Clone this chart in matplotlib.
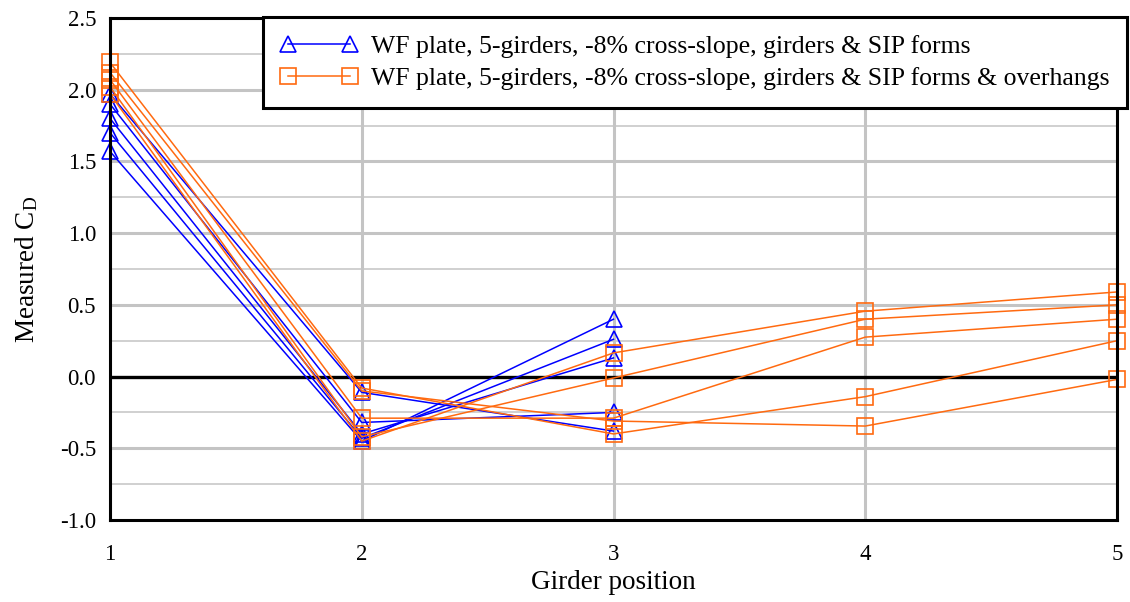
import matplotlib
matplotlib.use("Agg")
import matplotlib.pyplot as plt
import numpy as np

plt.rcParams["font.family"] = ["Liberation Serif", "DejaVu Serif"]
plt.rcParams["mathtext.fontset"] = "custom"
plt.rcParams["mathtext.rm"] = "Liberation Serif"
plt.rcParams["mathtext.it"] = "Liberation Serif:italic"

# ── Data ─────────────────────────────────────────────────────────────────────
girders_blue = [1, 2, 3]
girders_orange = [1, 2, 3, 4, 5]

# girders & SIP forms (one run per row)
cd_blue = [
    [1.97, -0.11, -0.38],
    [1.90, -0.32, -0.25],
    [1.80, -0.40, 0.13],
    [1.70, -0.43, 0.26],
    [1.57, -0.45, 0.40],
]

# girders & SIP forms & overhangs
cd_orange = [
    [2.19, -0.08, -0.40, -0.14, 0.25],
    [2.12, -0.10, -0.31, -0.345, -0.02],
    [2.07, -0.29, -0.29, 0.275, 0.40],
    [2.02, -0.42, -0.01, 0.40, 0.50],
    [1.97, -0.45, 0.165, 0.456, 0.59],
]

label_blue = "WF plate, 5-girders, -8% cross-slope, girders & SIP forms"
label_orange = "WF plate, 5-girders, -8% cross-slope, girders & SIP forms & overhangs"

blue = "#0000ff"
orange = "#ff6a10"

# ── Figure ───────────────────────────────────────────────────────────────────
fig = plt.figure(figsize=(11.30, 6.02), dpi=100)
ax = fig.add_axes([110 / 1130, 1 - 520 / 602, 1007 / 1130, 502 / 602])

# grid
for y in np.arange(-0.75, 2.5, 0.25):
    major = abs((y * 2) - round(y * 2)) < 1e-6
    ax.axhline(y, color="#c4c4c4" if major else "#d0d0d0",
               lw=2.2 if major else 1.4, zorder=0)
for x in girders_orange:
    ax.axvline(x, color="#c4c4c4", lw=2.2, zorder=0)
ax.axhline(0.0, color="black", lw=2.4, zorder=1)

for i, vals in enumerate(cd_blue):
    ax.plot(girders_blue, vals, color=blue, lw=1.1, marker="^", markersize=12,
            markerfacecolor="none", markeredgecolor=blue, markeredgewidth=1.2,
            label=label_blue if i == 0 else None, zorder=3, clip_on=False)

for i, vals in enumerate(cd_orange):
    ax.plot(girders_orange, vals, color=orange, lw=1.1, marker="s", markersize=12,
            markerfacecolor="none", markeredgecolor=orange, markeredgewidth=1.2,
            label=label_orange if i == 0 else None, zorder=3, clip_on=False)

ax.set_xlim(1, 5)
ax.set_ylim(-1.0, 2.5)
ax.set_xticks(girders_orange)
ax.set_yticks(np.arange(-1.0, 2.51, 0.5))
ax.set_yticklabels([f"{v:.1f}" for v in np.arange(-1.0, 2.51, 0.5)])
ax.tick_params(length=0, labelsize=16.5, pad=10)
ax.tick_params(axis="x", pad=17)
for s in ax.spines.values():
    s.set_linewidth(2.2)
    s.set_color("black")
    s.set_zorder(5)

ax.set_xlabel("Girder position", fontsize=19.5, labelpad=4)
ax.set_ylabel(r"Measured C$_\mathrm{D}$", fontsize=19.5, labelpad=14)

leg = ax.legend(loc="upper right", bbox_to_anchor=(1127 / 1130, 1 - 17 / 602),
                bbox_transform=fig.transFigure, fontsize=18.5, numpoints=2,
                handlelength=3.0, handletextpad=0.5, borderpad=0.7,
                borderaxespad=0, labelspacing=0.35, fancybox=False, framealpha=1)
leg.get_frame().set_edgecolor("black")
leg.get_frame().set_linewidth(2.2)
leg.set_zorder(10)

fig.savefig("out.png", dpi=100)
